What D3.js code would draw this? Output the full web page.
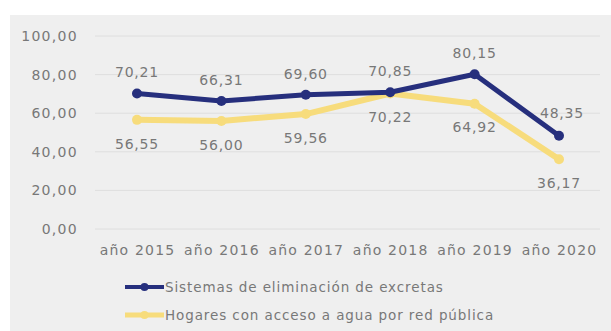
<!DOCTYPE html>
<html>
<head>
<meta charset="utf-8">
<script src="https://cdn.jsdelivr.net/npm/d3@7"></script>
<style>
  body { margin: 0; background: #fff; }
  text { font-family: "DejaVu Sans", sans-serif; fill: #787878; }
</style>
</head>
<body>
<div class="svg-container"></div>
<script>
// datos
var years = ["año 2015", "año 2016", "año 2017", "año 2018", "año 2019", "año 2020"];
var excretas = [70.21, 66.31, 69.60, 70.85, 80.15, 48.35];
var agua = [56.55, 56.00, 59.56, 70.22, 64.92, 36.17];
var yTicks = [0, 20, 40, 60, 80, 100];
var seriesNames = ["Sistemas de eliminación de excretas", "Hogares con acceso a agua por red pública"];

var width = 611;
var height = 331;
var fmt = function(v) { return d3.format(".2f")(v).replace(".", ","); };

var svg = d3.select(".svg-container").append("svg")
    .attr("width", width)
    .attr("height", height);

// panel gris
svg.append("rect")
    .attr("x", 10).attr("y", 15)
    .attr("width", width - 10).attr("height", height - 15)
    .attr("fill", "#efefef");

var x = d3.scalePoint().domain(years).range([137, 559]);
var y = d3.scaleLinear().domain([0, 100]).range([229, 36]);

// grid
svg.append("g").selectAll("line")
    .data(yTicks)
    .enter().append("line")
    .attr("x1", 95).attr("x2", 600)
    .attr("y1", d => y(d)).attr("y2", d => y(d))
    .attr("stroke", "#dedede")
    .attr("stroke-width", 1);

// eje Y
var yAxis = svg.append("g")
    .attr("transform", "translate(78,0)")
    .call(d3.axisLeft(y).tickValues(yTicks).tickSize(0).tickPadding(0).tickFormat(fmt));
yAxis.select(".domain").remove();
yAxis.selectAll("text").style("font-size", "14px").style("fill", "#787878").style("letter-spacing", "1.3px");

// eje X
var xAxis = svg.append("g")
    .attr("transform", "translate(0,229)")
    .call(d3.axisBottom(x).tickSize(0).tickPadding(16));
xAxis.select(".domain").remove();
xAxis.selectAll("text").style("font-size", "14px").style("fill", "#787878").style("letter-spacing", "1.2px");

var line = d3.line()
    .x((d, i) => x(years[i]))
    .y(d => y(d));

// serie amarilla
svg.append("path")
    .datum(agua)
    .attr("d", line)
    .attr("fill", "none")
    .attr("stroke", "#f7dc7c")
    .attr("stroke-width", 6)
    .attr("stroke-linejoin", "round");
svg.append("g").selectAll("circle")
    .data(agua)
    .enter().append("circle")
    .attr("cx", (d, i) => x(years[i]))
    .attr("cy", d => y(d))
    .attr("r", 5)
    .attr("fill", "#f7dc7c");

// serie azul
svg.append("path")
    .datum(excretas)
    .attr("d", line)
    .attr("fill", "none")
    .attr("stroke", "#262f7d")
    .attr("stroke-width", 5)
    .attr("stroke-linejoin", "round");
svg.append("g").selectAll("circle")
    .data(excretas)
    .enter().append("circle")
    .attr("cx", (d, i) => x(years[i]))
    .attr("cy", d => y(d))
    .attr("r", 5)
    .attr("fill", "#262f7d");

// etiquetas
svg.append("g").selectAll("text")
    .data(excretas)
    .enter().append("text")
    .attr("x", (d, i) => x(years[i]) + (i == 5 ? 3 : 0))
    .attr("y", (d, i) => y(d) - (i == 5 ? 18 : 16))
    .attr("text-anchor", "middle")
    .style("font-size", "14px")
    .style("letter-spacing", "0.8px")
    .text(d => fmt(d));

svg.append("g").selectAll("text")
    .data(agua)
    .enter().append("text")
    .attr("x", (d, i) => x(years[i]))
    .attr("y", (d, i) => y(d) + (i == 4 ? 28 : 29))
    .attr("text-anchor", "middle")
    .style("font-size", "14px")
    .style("letter-spacing", "0.8px")
    .text(d => fmt(d));

// leyenda
var colors = ["#262f7d", "#f7dc7c"];
var legend = svg.append("g").selectAll("g")
    .data(seriesNames)
    .enter().append("g")
    .attr("transform", (d, i) => "translate(0," + (287 + i * 28) + ")");

legend.append("line")
    .attr("x1", 125).attr("x2", 164)
    .attr("y1", 0).attr("y2", 0)
    .attr("stroke", (d, i) => colors[i])
    .attr("stroke-width", (d, i) => i == 0 ? 4 : 5);
legend.append("circle")
    .attr("cx", 144.5).attr("cy", 0).attr("r", 4)
    .attr("fill", (d, i) => colors[i]);
legend.append("text")
    .attr("x", 165).attr("y", 0)
    .attr("dy", "0.35em")
    .style("font-size", "13.5px")
    .style("letter-spacing", "0.9px")
    .text(d => d);
</script>
</body>
</html>
